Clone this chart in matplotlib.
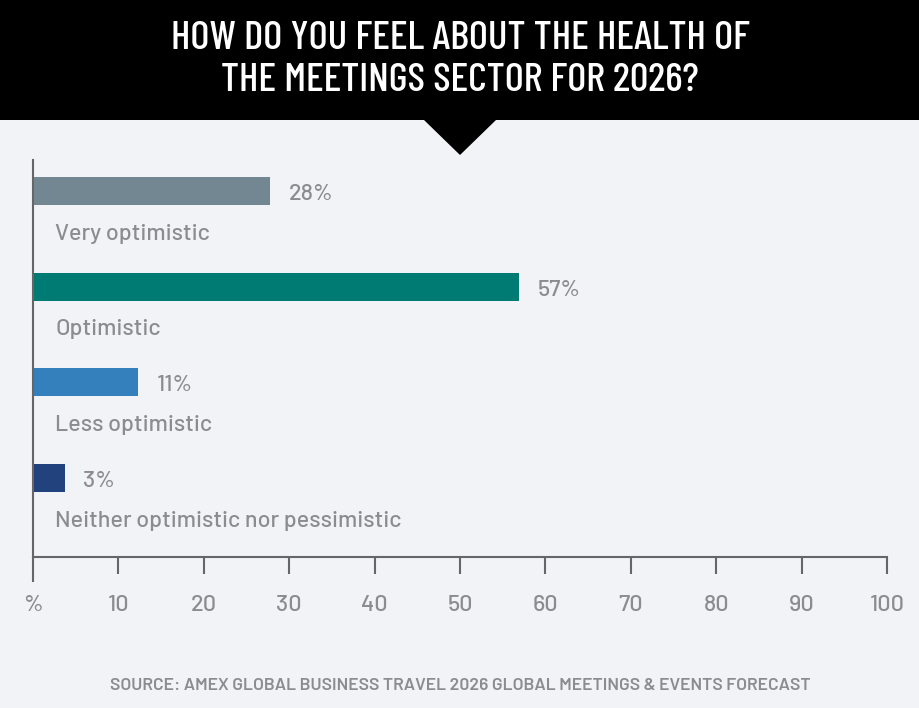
import matplotlib
matplotlib.use('Agg')
import matplotlib.pyplot as plt
from matplotlib.patches import Rectangle, Polygon

# data
categories = ['Very optimistic', 'Optimistic', 'Less optimistic',
              'Neither optimistic nor pessimistic']
bar_lengths = [27.8, 56.9, 12.3, 3.7]   # as drawn
value_labels = ['28%', '57%', '11%', '3%']
bar_colors = ['#738793', '#007b74', '#3480bd', '#22427e']
xticks = [0, 10, 20, 30, 40, 50, 60, 70, 80, 90, 100]
xtick_labels = ['%', '10', '20', '30', '40', '50', '60', '70', '80', '90', '100']

title = 'HOW DO YOU FEEL ABOUT THE HEALTH OF\nTHE MEETINGS SECTOR FOR 2026?'
source = 'SOURCE: AMEX GLOBAL BUSINESS TRAVEL 2026 GLOBAL MEETINGS & EVENTS FORECAST'

bg = '#f2f3f7'
txt = '#8b8b90'
axc = '#666666'
body = ['Barlow', 'DejaVu Sans']
cond = ['Barlow Condensed', 'DejaVu Sans']

W, H = 920, 708
fig = plt.figure(figsize=(W / 100, H / 100), dpi=100, facecolor=bg)

# black header with pointer
fig.patches.append(Rectangle((0, 1 - 120 / H), 1, 120 / H, transform=fig.transFigure,
                             facecolor='black', edgecolor='none'))
fig.patches.append(Polygon([(424 / W, 1 - 120 / H), (496 / W, 1 - 120 / H),
                            (460 / W, 1 - 155 / H)], closed=True,
                           transform=fig.transFigure, facecolor='black', edgecolor='none'))
fig.text(0.5, 1 - 60 / H, title, ha='center', va='center', color='white',
         fontsize=29.5, family=cond, fontweight='medium', linespacing=1.18)

ax = fig.add_axes([33 / W, 1 - 557 / H, 854 / W, (557 - 160) / H])
ax.set_facecolor(bg)

ys = list(range(len(categories)))
ax.barh(ys, bar_lengths, height=0.293, color=bar_colors)
for y, v, lab, cat in zip(ys, bar_lengths, value_labels, categories):
    ax.text(v + 2.2, y + 0.095, lab, va='baseline', ha='left', color=txt,
            fontsize=16.8, family=body, fontweight='medium')
    ax.text(2.58, y + 0.51, cat, va='baseline', ha='left', color=txt,
            fontsize=16.8, family=body, fontweight='medium')

ax.set_xlim(0, 100)
ax.set_ylim(3.825, -0.324)
ax.set_yticks([])
ax.set_xticks(xticks)
ax.set_xticklabels(xtick_labels, family=body, fontweight='medium')
ax.tick_params(axis='x', direction='out', length=12.2, width=1.5, color=axc,
               labelcolor=txt, labelsize=16.8, pad=15)
ax.xaxis.get_major_ticks()[0].tick1line.set_markersize(18)

for s in ['top', 'right']:
    ax.spines[s].set_visible(False)
for s in ['left', 'bottom']:
    ax.spines[s].set_color(axc)
    ax.spines[s].set_linewidth(1.5)

fig.text(0.5, 1 - 686 / H, source, ha='center', va='center', color=txt,
         fontsize=12.6, family=body, fontweight='semibold')

fig.savefig('out.png', dpi=100, facecolor=bg)
